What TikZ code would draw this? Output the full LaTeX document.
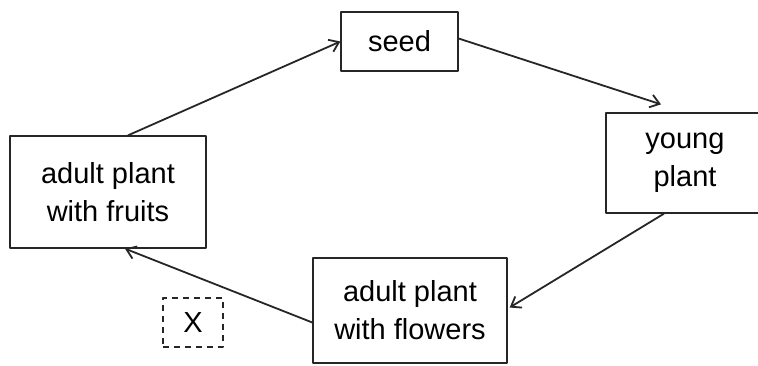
\documentclass[tikz,border=0pt]{standalone}
\usepackage{fontspec}
\setmainfont{Liberation Sans}
\usetikzlibrary{arrows.meta}

\begin{document}
\begin{tikzpicture}[
    x=1pt,
    y=-1pt,
    line join=round,
    >={Straight Barb[length=9pt,width=13pt]},
    stage/.style={draw=black!85,line width=1.3pt,align=center,inner sep=0pt,
        font=\fontsize{29}{38}\selectfont},
    link/.style={->,draw=black!85,line width=1.8pt}
]
\useasboundingbox (0,0) rectangle (758,365);

% 各阶段
\node[stage,minimum width=196pt,minimum height=112pt] (fruits) at (108,192) {adult plant\\with fruits};
\node[stage,minimum width=117pt,minimum height=59pt] (seed) at (399.5,41.5) {seed};
\node[stage,minimum width=158pt,minimum height=100pt] (young) at (685,163) {young\\plant};
\node[stage,minimum width=194pt,minimum height=105pt] (flowers) at (410,310.5) {adult plant\\with flowers};
\node[stage,dashed,dash pattern=on 6pt off 5pt,minimum width=60pt,minimum height=49pt] (X) at (193,322.5) {X};

% 箭头
\draw[link] ([xshift=20pt]fruits.north) -- (seed.west);
\draw[link] ([yshift=3pt]seed.east) -- ([xshift=-24pt,yshift=8pt]young.north);
\draw[link] ([xshift=-21pt]young.south) -- ([xshift=2pt,yshift=3pt]flowers.east);
\draw[link] ([yshift=-12pt]flowers.west) -- ([xshift=17pt]fruits.south);

\end{tikzpicture}
\end{document}
